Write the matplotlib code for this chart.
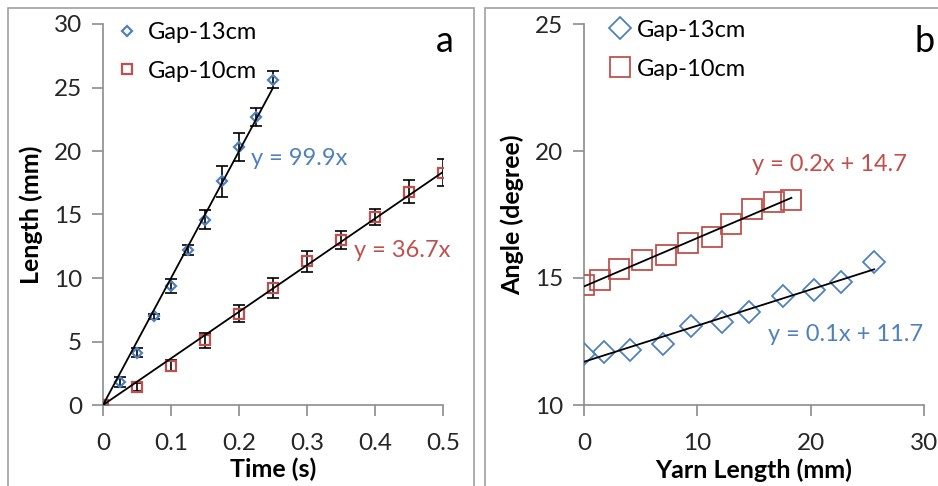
"""
yarn length vs time and angle vs yarn length
"""

import matplotlib

matplotlib.use("Agg")
import matplotlib.pyplot as plt
import numpy as np
from matplotlib.patches import Rectangle

plt.rcParams["font.family"] = ["Lato", "DejaVu Sans"]

BLUE = "#4F81BD"
RED = "#C0504D"

# panel a: length vs time
time_13 = [0, 0.025, 0.05, 0.075, 0.1, 0.125, 0.15, 0.175, 0.2, 0.225, 0.25]
len_13 = [0, 1.8, 4.1, 7.0, 9.4, 12.2, 14.6, 17.6, 20.3, 22.7, 25.6]
err_13 = [0, 0.4, 0.35, 0.2, 0.55, 0.37, 0.75, 1.2, 1.1, 0.7, 0.67]
slope_13 = 99.9

time_10 = [0, 0.05, 0.1, 0.15, 0.2, 0.25, 0.3, 0.35, 0.4, 0.45, 0.5]
len_10 = [0, 1.4, 3.1, 5.1, 7.2, 9.2, 11.3, 13.0, 14.8, 16.8, 18.3]
err_10 = [0, 0.3, 0.45, 0.6, 0.7, 0.8, 0.85, 0.7, 0.6, 0.9, 1.05]
slope_10 = 36.7

# panel b: angle vs yarn length
angle_13 = [12.0, 12.07, 12.17, 12.4, 13.11, 13.27, 13.66, 14.29, 14.53, 14.84, 15.62]
angle_10 = [14.72, 14.92, 15.34, 15.71, 15.9, 16.36, 16.6, 17.13, 17.7, 18.0, 18.07]

TICK_FS = 17.5
LABEL_FS = 18
TEXT_FS = 17

fig = plt.figure(figsize=(9.38, 4.86), dpi=100)

# gray frames around each panel
fig.patches.append(Rectangle((8 / 938, -0.1), 466 / 938, 1.1 - 8 / 486,
                             transform=fig.transFigure, fill=False,
                             edgecolor="#A0A0A0", linewidth=1.2))
fig.patches.append(Rectangle((485 / 938, -0.1), 0.6, 1.1 - 8 / 486,
                             transform=fig.transFigure, fill=False,
                             edgecolor="#A0A0A0", linewidth=1.2))

ax1 = fig.add_axes([103 / 938, 81 / 486, 340 / 938, 381 / 486])
ax2 = fig.add_axes([584 / 938, 81 / 486, 340 / 938, 381 / 486])

for ax in (ax1, ax2):
    for side in ("top", "right"):
        ax.spines[side].set_visible(False)
    for side in ("left", "bottom"):
        ax.spines[side].set_color("#8C8C8C")
        ax.spines[side].set_linewidth(1.2)
    ax.tick_params(direction="out", length=8, width=1.2, color="#8C8C8C",
                   labelsize=TICK_FS, labelcolor="#262626")
    ax.tick_params(axis="y", pad=7)
    ax.tick_params(axis="x", pad=12)
    ax.patch.set_alpha(0)

# panel a
ax1.errorbar(time_13, len_13, yerr=err_13, fmt="none", ecolor="black",
             elinewidth=1.2, capsize=4, capthick=1.2, zorder=2)
ax1.errorbar(time_10, len_10, yerr=err_10, fmt="none", ecolor="black",
             elinewidth=1.2, capsize=4, capthick=1.2, zorder=2)
ax1.plot(time_13, len_13, linestyle="none", marker="D", markersize=5,
         markerfacecolor="none", markeredgecolor=BLUE, markeredgewidth=1.6,
         label="Gap-13cm", zorder=3)
ax1.plot(time_10, len_10, linestyle="none", marker="s", markersize=7,
         markerfacecolor="none", markeredgecolor=RED, markeredgewidth=1.6,
         label="Gap-10cm", zorder=3)
t13 = np.array([0, max(time_13)])
t10 = np.array([0, max(time_10)])
ax1.plot(t13, slope_13 * t13, color="black", linewidth=1.3, zorder=4)
ax1.plot(t10, slope_10 * t10, color="black", linewidth=1.3, zorder=4)
ax1.text(0.218, 19.4, f"y = {slope_13}x", color=BLUE, fontsize=TEXT_FS, va="center")
ax1.text(0.369, 12.2, f"y = {slope_10}x", color=RED, fontsize=TEXT_FS, va="center")

ax1.set_xlim(0, 0.5)
ax1.set_ylim(0, 30)
ax1.set_xticks([0, 0.1, 0.2, 0.3, 0.4, 0.5])
ax1.set_xticklabels(["0", "0.1", "0.2", "0.3", "0.4", "0.5"])
ax1.set_yticks(range(0, 31, 5))
ax1.set_xlabel("Time (s)", fontsize=LABEL_FS, fontweight="bold", labelpad=3)
ax1.set_ylabel("Length (mm)", fontsize=LABEL_FS, fontweight="bold", labelpad=8)
ax1.legend(loc="upper left", bbox_to_anchor=(0.015, 1.03), frameon=False,
           fontsize=TEXT_FS, handlelength=0.8, handletextpad=0.5, labelspacing=0.75,
           borderaxespad=0)
fig.text(445 / 938, 1 - 42 / 486, "a", fontsize=26, ha="center", va="center")

# panel b
ax2.plot(len_13, angle_13, linestyle="none", marker="D", markersize=11,
         markerfacecolor="none", markeredgecolor=BLUE, markeredgewidth=1.3,
         label="Gap-13cm", zorder=3)
ax2.plot(len_10, angle_10, linestyle="none", marker="s", markersize=14,
         markerfacecolor="none", markeredgecolor=RED, markeredgewidth=1.3,
         label="Gap-10cm", zorder=3)
for xs, ys in ((len_13, angle_13), (len_10, angle_10)):
    k, b = np.polyfit(xs, ys, 1)
    xx = np.array([0, max(xs)])
    ax2.plot(xx, k * xx + b, color="black", linewidth=1.3, zorder=4)
ax2.text(14.8, 19.45, "y = 0.2x + 14.7", color=RED, fontsize=TEXT_FS, va="center")
ax2.text(16.2, 12.76, "y = 0.1x + 11.7", color=BLUE, fontsize=TEXT_FS, va="center")

ax2.set_xlim(0, 30)
ax2.set_ylim(10, 25)
ax2.set_xticks([0, 10, 20, 30])
ax2.set_yticks([10, 15, 20, 25])
ax2.set_xlabel("Yarn Length (mm)", fontsize=LABEL_FS, fontweight="bold", labelpad=3)
ax2.set_ylabel("Angle (degree)", fontsize=LABEL_FS, fontweight="bold", labelpad=8)
ax2.legend(loc="upper left", bbox_to_anchor=(0.05, 1.036), frameon=False,
           fontsize=TEXT_FS, handlelength=0.8, handletextpad=0.3, labelspacing=0.76,
           borderaxespad=0)
fig.text(925 / 938, 1 - 42 / 486, "b", fontsize=26, ha="center", va="center")

fig.savefig("out.png", dpi=100)
